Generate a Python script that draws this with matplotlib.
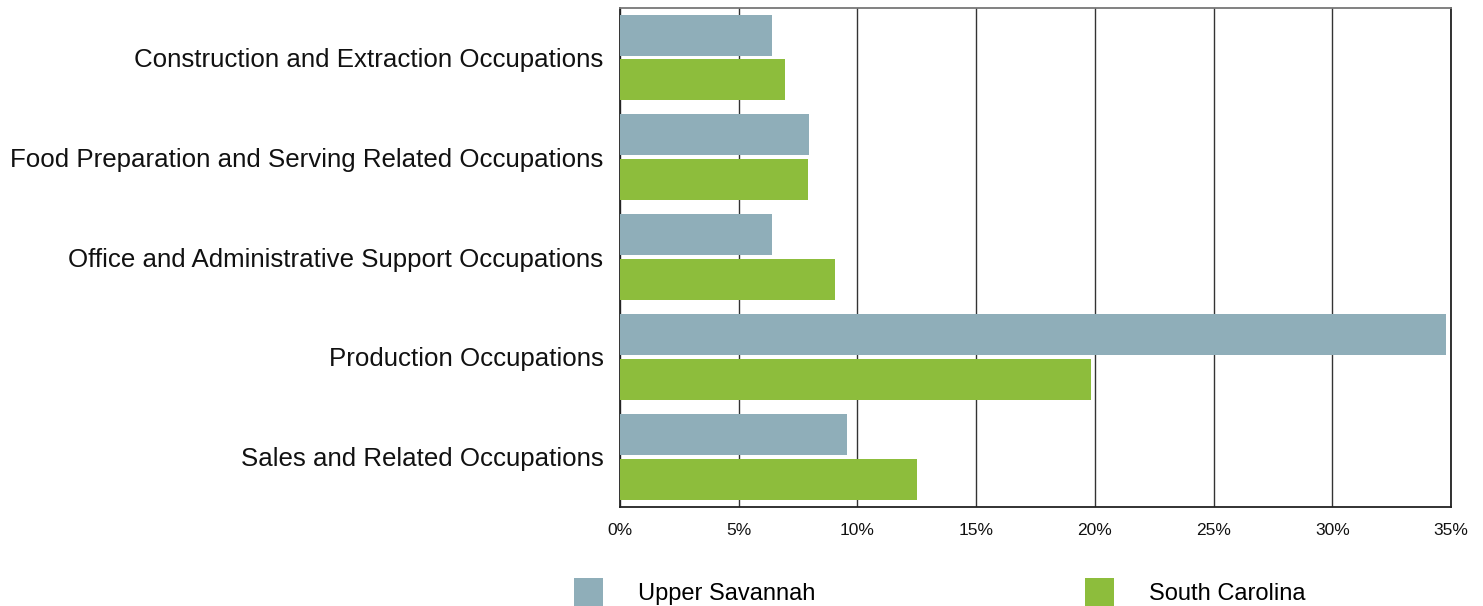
import numpy as np
import matplotlib.pyplot as plt
from matplotlib.ticker import PercentFormatter

plt.rcParams['font.family'] = ['Liberation Sans', 'DejaVu Sans']

categories = ["Construction and Extraction Occupations",
              "Food Preparation and Serving Related Occupations",
              "Office and Administrative Support Occupations",
              "Production Occupations",
              "Sales and Related Occupations"]
upper_savannah = [6.40, 7.97, 6.40, 34.80, 9.56]
south_carolina = [6.96, 7.93, 9.07, 19.83, 12.52]
xticks = [0, 5, 10, 15, 20, 25, 30, 35]

fig = plt.figure(figsize=(14.83, 6.06), dpi=100)
ax = fig.add_axes([0.4181, 0.1639, 0.5603, 0.8237])

y = np.arange(len(categories))
h = 0.41
ax.barh(y - 0.224, upper_savannah, height=h, color='#8FAEB9', label='Upper Savannah', zorder=3)
ax.barh(y + 0.224, south_carolina, height=h, color='#8DBD3C', label='South Carolina', zorder=3)

ax.set_xlim(0, 35)
ax.set_ylim(len(categories) - 0.5, -0.5)
ax.set_xticks(xticks)
ax.xaxis.set_major_formatter(PercentFormatter(decimals=0))
ax.set_yticks(y)
ax.set_yticklabels(categories)
ax.tick_params(axis='y', length=0, pad=12, labelsize=18.6, colors='#111111')
ax.tick_params(axis='x', length=0, pad=12, labelsize=12.5, colors='#111111')
ax.grid(axis='x', color='#333333', linewidth=1, zorder=0)
for s in ['left', 'right', 'bottom']:
    ax.spines[s].set_color('#222222')
    ax.spines[s].set_linewidth(1.3)
ax.spines['top'].set_color('#777777')
ax.spines['top'].set_linewidth(1.3)

fig.legend(loc='lower center', bbox_to_anchor=(0.6335, -0.02), ncol=2, frameon=False,
           fontsize=17, handlelength=1.23, handleheight=1.45, handletextpad=1.5,
           columnspacing=11.4, borderpad=0)

fig.savefig('out.png', dpi=100)
